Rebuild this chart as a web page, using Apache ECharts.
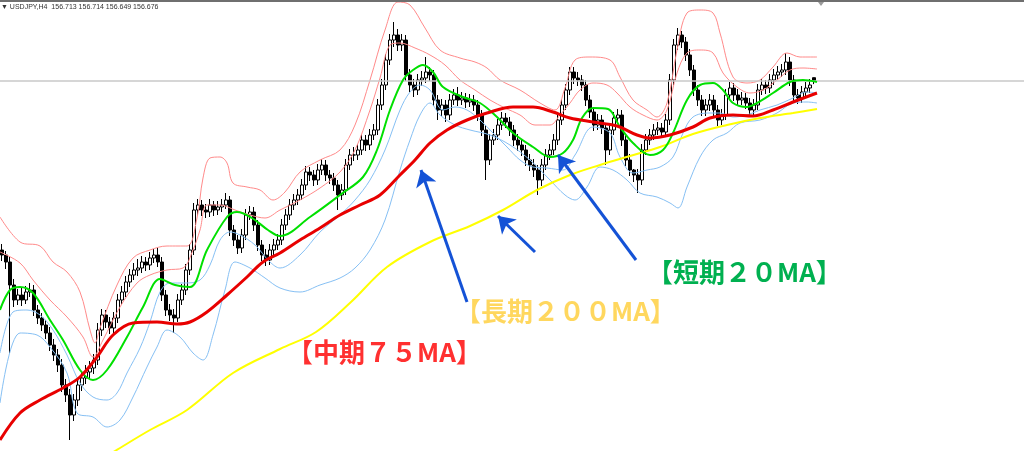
<!DOCTYPE html>
<html><head><meta charset="utf-8">
<script src="https://cdn.jsdelivr.net/npm/echarts@6/dist/echarts.min.js"></script>
<style>html,body{margin:0;padding:0;background:#fff}#c{width:1024px;height:451px}</style>
</head><body><div id="c"></div>
<script>
const title = '▼ USDJPY,H4  156.713 156.714 156.649 156.676';
const lastPrice = 156.676;
const opens = [154.99,154.94,154.87,154.64,154.49,154.54,154.49,154.57,154.59,154.39,
154.31,154.24,154.16,154.04,153.94,153.84,153.64,153.54,153.34,153.49,
153.64,153.71,153.77,153.81,153.89,154.19,154.34,154.27,154.21,154.31,
154.49,154.57,154.67,154.74,154.79,154.81,154.87,154.84,154.91,154.94,
154.87,154.54,154.39,154.34,154.31,154.49,154.59,154.79,154.99,155.39,
155.44,155.39,155.37,155.44,155.39,155.42,155.44,155.49,155.19,155.09,
155.01,155.14,155.34,155.37,155.24,155.04,154.94,154.89,154.99,155.04,
155.09,155.24,155.34,155.44,155.49,155.54,155.64,155.77,155.74,155.69,
155.79,155.84,155.74,155.71,155.64,155.54,155.59,155.84,155.94,155.94,
155.99,156.09,156.04,156.14,156.19,156.44,156.64,156.89,157.09,157.14,
157.04,157.09,156.74,156.64,156.59,156.69,156.71,156.77,156.74,156.49,
156.39,156.44,156.34,156.49,156.54,156.49,156.51,156.47,156.49,156.44,
156.34,156.19,155.89,156.09,156.14,156.24,156.31,156.27,156.19,156.09,
156.04,155.99,155.89,155.84,155.79,155.69,155.84,155.94,155.99,156.09,
156.29,156.44,156.59,156.77,156.71,156.69,156.64,156.49,156.37,156.24,
156.29,156.21,155.99,156.19,156.31,156.34,156.09,155.89,155.79,155.74,
155.69,155.99,156.09,156.14,156.19,156.21,156.17,156.29,156.69,157.04,
157.14,157.07,156.94,156.79,156.59,156.49,156.39,156.44,156.49,156.39,
156.29,156.34,156.54,156.61,156.54,156.49,156.51,156.46,156.39,156.44,
156.59,156.64,156.61,156.69,156.74,156.77,156.79,156.87,156.69,156.54,
156.51,156.57,156.61,156.713];
const closes = [154.94,154.87,154.64,154.49,154.54,154.49,154.57,154.59,154.39,154.31,
154.24,154.16,154.04,153.94,153.84,153.64,153.54,153.34,153.49,153.64,
153.71,153.77,153.81,153.89,154.19,154.34,154.27,154.21,154.31,154.49,
154.57,154.67,154.74,154.79,154.81,154.87,154.84,154.91,154.94,154.87,
154.54,154.39,154.34,154.31,154.49,154.59,154.79,154.99,155.39,155.44,
155.39,155.37,155.44,155.39,155.42,155.44,155.49,155.19,155.09,155.01,
155.14,155.34,155.37,155.24,155.04,154.94,154.89,154.99,155.04,155.09,
155.24,155.34,155.44,155.49,155.54,155.64,155.77,155.74,155.69,155.79,
155.84,155.74,155.71,155.64,155.54,155.59,155.84,155.94,155.94,155.99,
156.09,156.04,156.14,156.19,156.44,156.64,156.89,157.09,157.14,157.04,
157.09,156.74,156.64,156.59,156.69,156.71,156.77,156.74,156.49,156.39,
156.44,156.34,156.49,156.54,156.49,156.51,156.47,156.49,156.44,156.34,
156.19,155.89,156.09,156.14,156.24,156.31,156.27,156.19,156.09,156.04,
155.99,155.89,155.84,155.79,155.69,155.84,155.94,155.99,156.09,156.29,
156.44,156.59,156.77,156.71,156.69,156.64,156.49,156.37,156.24,156.29,
156.21,155.99,156.19,156.31,156.34,156.09,155.89,155.79,155.74,155.69,
155.99,156.09,156.14,156.19,156.21,156.17,156.29,156.69,157.04,157.14,
157.07,156.94,156.79,156.59,156.49,156.39,156.44,156.49,156.39,156.29,
156.34,156.54,156.61,156.54,156.49,156.51,156.46,156.39,156.44,156.59,
156.64,156.61,156.69,156.74,156.77,156.79,156.87,156.69,156.54,156.51,
156.57,156.61,156.64,156.676];
const highs = [155.05,154.98,154.92,154.70,154.60,154.61,154.63,154.66,154.64,154.44,
154.36,154.29,154.22,154.10,154.00,153.90,153.70,153.60,153.55,153.70,
153.78,153.84,153.88,153.95,154.26,154.40,154.39,154.32,154.37,154.55,
154.63,154.73,154.80,154.86,154.90,154.93,154.92,154.97,155.00,155.01,
154.92,154.59,154.45,154.40,154.55,154.65,154.85,155.05,155.46,155.50,
155.49,155.45,155.50,155.48,155.48,155.50,155.56,155.53,155.24,155.14,
155.20,155.40,155.43,155.42,155.29,155.09,155.00,155.05,155.10,155.15,
155.30,155.40,155.50,155.55,155.60,155.70,155.83,155.82,155.79,155.85,
155.90,155.89,155.79,155.76,155.69,155.65,155.90,156.00,156.02,156.05,
156.15,156.14,156.20,156.25,156.50,156.70,156.95,157.15,157.27,157.20,
157.15,157.14,156.80,156.70,156.75,156.78,156.92,156.82,156.79,156.54,
156.50,156.49,156.55,156.60,156.62,156.57,156.56,156.55,156.54,156.49,
156.39,156.24,156.15,156.20,156.30,156.37,156.36,156.32,156.24,156.15,
156.10,156.04,155.95,155.90,155.84,155.90,156.00,156.05,156.15,156.35,
156.50,156.65,156.82,156.82,156.77,156.74,156.69,156.54,156.42,156.35,
156.34,156.26,156.25,156.37,156.40,156.39,156.14,155.95,155.80,155.80,
156.05,156.15,156.20,156.25,156.27,156.26,156.35,156.75,157.10,157.21,
157.18,157.12,157.00,156.84,156.64,156.54,156.50,156.55,156.54,156.44,
156.40,156.60,156.67,156.66,156.60,156.57,156.56,156.51,156.50,156.65,
156.70,156.69,156.75,156.80,156.83,156.85,156.96,156.92,156.74,156.60,
156.63,156.67,156.70,156.714];
const lows = [154.88,154.80,153.96,154.42,154.44,154.43,154.45,154.52,154.33,154.25,
154.18,154.10,153.98,153.88,153.77,153.57,153.47,153.09,153.28,153.43,
153.58,153.65,153.70,153.75,153.84,154.13,154.21,154.15,154.16,154.26,
154.44,154.52,154.62,154.69,154.73,154.76,154.78,154.79,154.86,154.82,
154.48,154.33,154.28,154.16,154.27,154.44,154.54,154.74,154.94,155.33,
155.33,155.31,155.32,155.33,155.34,155.37,155.40,155.13,155.03,154.95,
154.96,155.09,155.29,155.18,154.98,154.88,154.83,154.84,154.94,154.99,
155.04,155.19,155.29,155.39,155.44,155.49,155.59,155.68,155.63,155.64,
155.74,155.68,155.65,155.58,155.39,155.49,155.54,155.79,155.88,155.89,
155.94,155.98,155.99,156.09,156.14,156.39,156.59,156.84,157.02,156.98,
156.98,156.68,156.57,156.52,156.54,156.63,156.66,156.68,156.43,156.29,
156.33,156.27,156.29,156.44,156.43,156.44,156.41,156.42,156.38,156.28,
156.13,155.69,155.84,156.04,156.09,156.19,156.21,156.13,156.03,155.98,
155.93,155.83,155.78,155.72,155.54,155.63,155.79,155.89,155.94,156.04,
156.24,156.39,156.54,156.65,156.63,156.58,156.43,156.31,156.18,156.19,
156.15,155.84,155.94,156.14,156.26,156.03,155.83,155.73,155.67,155.56,
155.64,155.94,156.04,156.09,156.14,156.11,156.12,156.24,156.64,156.99,
157.01,156.88,156.73,156.53,156.43,156.33,156.33,156.38,156.33,156.23,
156.24,156.29,156.49,156.48,156.43,156.44,156.40,156.33,156.33,156.39,
156.54,156.55,156.56,156.64,156.69,156.72,156.74,156.63,156.48,156.45,
156.46,156.52,156.56,156.649];

// indicator lines: [bar position, price]
const ma20 = [[0,154.39],[2.5,154.59],[5,154.62],[8.25,154.56],[12.5,154.29],[15.75,154.09],[20,153.79],[23.25,153.69],[26.75,153.79],[31.75,154.12],[35.75,154.42],[40,154.70],[43.75,154.64],[47.5,154.62],[51.75,154.99],[56.75,155.32],[59.25,155.37],[63,155.31],[67,155.19],[70,155.13],[77.5,155.32],[85,155.54],[90.75,155.72],[94.25,155.99],[97.5,156.39],[100.75,156.69],[103.25,156.79],[105.75,156.84],[108.25,156.77],[110.75,156.62],[115.75,156.52],[120,156.46],[124.25,156.32],[128.25,156.16],[133.25,156.02],[137.5,155.92],[140.75,155.96],[143.25,156.09],[145.5,156.31],[148.25,156.41],[152,156.40],[155,156.22],[158.25,156.06],[162.5,155.94],[165.75,155.99],[168.25,156.16],[171.75,156.49],[175,156.64],[178.25,156.66],[180.75,156.59],[183.25,156.46],[186.75,156.42],[189.25,156.46],[193.25,156.56],[197.5,156.67],[200.75,156.69],[204.25,156.67]];
const ma75 = [[0,153.09],[5,153.36],[10,153.49],[15.75,153.61],[20,153.72],[24.25,153.92],[28.25,154.14],[33.25,154.26],[39.25,154.27],[44.25,154.25],[47.5,154.27],[51.75,154.37],[56.75,154.54],[61.75,154.72],[65.75,154.87],[70,154.96],[75,155.09],[80,155.21],[85,155.34],[90,155.44],[95,155.54],[100,155.74],[103.75,155.89],[107.5,156.06],[111.75,156.19],[116.75,156.29],[121.75,156.36],[128.25,156.42],[133.25,156.42],[138.25,156.37],[142.5,156.31],[148.25,156.27],[154.25,156.23],[159.25,156.14],[162.5,156.11],[167.5,156.14],[173.25,156.22],[177.5,156.31],[183.25,156.34],[188.25,156.33],[193.25,156.39],[198.25,156.47],[204.25,156.56]];
const ma200 = [[25,152.89],[28.75,152.98],[37.5,153.19],[46.75,153.39],[58.25,153.76],[70,154.00],[79,154.17],[87.75,154.47],[96.75,154.82],[107.5,155.07],[117.5,155.23],[125.75,155.39],[134.25,155.59],[142.5,155.74],[150,155.84],[157.5,155.93],[165,156.02],[173.25,156.15],[181.75,156.24],[190,156.31],[198.25,156.36],[204.25,156.40]];
const bbUpperOuter = [[0,155.32],[5,155.07],[10,155.03],[13.25,154.87],[16.75,154.77],[20,154.57],[22.5,154.19],[23.75,154.06],[25,154.21],[29.25,154.64],[33.25,154.91],[37.5,154.99],[41.75,155.03],[46.75,155.03],[49.25,155.31],[50.75,155.71],[52.5,155.91],[55,155.92],[56.75,155.86],[58.25,155.66],[61.75,155.62],[65,155.59],[68.25,155.49],[71.25,155.57],[75,155.77],[80,155.89],[85,155.99],[88.75,156.24],[92.5,156.69],[96.25,157.19],[99.5,157.47],[102.5,157.44],[106.25,157.21],[110,156.99],[115,156.91],[118.75,156.87],[121.75,156.81],[125,156.69],[130,156.59],[135,156.46],[138.75,156.39],[141.25,156.61],[143.75,156.89],[147.5,156.92],[152.5,156.89],[155,156.72],[158.25,156.49],[161.75,156.39],[164.25,156.32],[166.75,156.46],[169.25,156.99],[171.75,157.36],[175,157.39],[178.25,157.36],[180,157.16],[183.25,156.72],[186.75,156.66],[190,156.69],[193.25,156.82],[196.75,156.96],[200,156.92],[204.25,156.92]];
const bbUpperInner = [[0,154.97],[5,154.86],[8.25,154.69],[12.5,154.49],[16.75,154.32],[20.75,154.12],[23.25,153.92],[25.75,154.09],[30,154.42],[34.25,154.66],[37.5,154.74],[41.75,154.79],[45.75,154.81],[48.25,154.99],[50,155.19],[51.75,155.44],[55,155.44],[58.75,155.39],[62.5,155.34],[66.25,155.31],[70,155.39],[75,155.49],[80,155.61],[85,155.77],[88.75,155.99],[92.5,156.39],[95,156.71],[97.5,157.04],[100,157.06],[103.75,157.01],[107.5,156.94],[111.25,156.84],[115,156.69],[118.75,156.59],[122.5,156.49],[126.25,156.41],[130,156.34],[133.75,156.24],[137.5,156.24],[140,156.34],[142.5,156.46],[145,156.59],[148.25,156.66],[151.75,156.64],[154.25,156.56],[157.5,156.42],[160.75,156.34],[164.25,156.29],[166.75,156.39],[169.25,156.76],[171.75,156.96],[175,156.99],[178.25,156.96],[180.75,156.76],[184.25,156.62],[187.5,156.56],[190.75,156.59],[194.25,156.69],[197.5,156.79],[200.75,156.81],[204.25,156.80]];
const bbLowerInner = [[0,153.96],[3.25,154.37],[6.75,154.39],[10,154.34],[13.25,154.19],[16.75,153.94],[20,153.66],[23.25,153.52],[26.75,153.49],[29.25,153.56],[31.75,153.76],[35,154.01],[37.5,154.27],[40,154.57],[42.5,154.66],[46.25,154.66],[50,154.69],[52.5,154.84],[55,155.09],[57.5,155.17],[60,155.14],[63.75,155.04],[67.5,154.87],[70,154.81],[75,154.94],[80,155.17],[85,155.34],[88.75,155.49],[92.5,155.69],[96.25,155.99],[100,156.39],[102.5,156.57],[105,156.64],[107.5,156.59],[110.75,156.39],[113.75,156.42],[116.75,156.39],[120,156.29],[123.25,156.16],[126.75,156.02],[130,155.89],[133.25,155.82],[136.75,155.81],[140.75,155.79],[143.75,155.94],[148.25,156.22],[152.5,156.16],[155,155.92],[158.25,155.76],[161.75,155.79],[165,155.82],[168.25,155.92],[170.75,156.16],[173.25,156.32],[177.5,156.36],[180,156.36],[183.25,156.32],[186.75,156.34],[190,156.39],[194.25,156.44],[198.25,156.51],[201.75,156.57],[204.25,156.56]];
const bbLowerOuter = [[0,153.46],[5,154.16],[9.25,154.14],[12.5,154.02],[16.75,153.76],[19.25,153.36],[23.25,153.32],[26.75,153.22],[30,153.29],[33.25,153.52],[36.75,153.82],[39.25,154.02],[41.75,154.19],[45,154.12],[48.25,153.96],[50.75,153.89],[53.25,154.14],[56.25,154.59],[58.75,154.87],[62.5,154.81],[66.25,154.71],[70,154.61],[75,154.57],[80,154.64],[85,154.71],[88.75,154.81],[92.5,154.99],[96.25,155.29],[100,155.79],[102.5,156.09],[105,156.34],[107.5,156.46],[110,156.34],[113.75,156.24],[117.5,156.19],[122.5,156.14],[127.5,156.04],[132.5,155.89],[137.5,155.69],[141.25,155.54],[143.75,155.49],[146.75,155.62],[150,155.82],[153.25,155.79],[156.75,155.69],[160,155.56],[164.25,155.52],[167.5,155.46],[169.5,155.41],[171.75,155.62],[175,155.92],[178.25,156.09],[181.75,156.16],[185,156.26],[190,156.29],[194.25,156.36],[198.25,156.46],[201.75,156.47],[204.25,156.46]];
// annotation arrows: [tail, head] in [bar position, price]
const arrows = [
  [[116.75,154.47],[105.25,155.79]],
  [[133.75,154.97],[124.5,155.33]],
  [[159,154.89],[139.5,155.94]]
];
const labels = [
  {text:'【短期２０MA】', color:'#00b050', x:647, y:259},
  {text:'【長期２００MA】', color:'#ffd75e', x:455, y:298},
  {text:'【中期７５MA】', color:'#ff3030', x:287, y:339}
];

const nBars = 256;
const cats = Array.from({length:nBars}, (_, i) => String(i));
const candleData = opens.map((o, i) => [o, closes[i], lows[i], highs[i]]);

function lineSeries(data, color, width, z) {
  return {type:'line', xAxisIndex:1, yAxisIndex:0, data:data, showSymbol:false, smooth:0.35,
    lineStyle:{color:color, width:width}, z:z, silent:true, animation:false};
}

const chart = echarts.init(document.getElementById('c'), null, {renderer:'canvas'});
chart.setOption({
  animation:false,
  backgroundColor:'#ffffff',
  grid:{left:0, right:0, top:0, bottom:0},
  xAxis:[
    {type:'category', data:cats, boundaryGap:true, show:false},
    {type:'value', min:0, max:nBars, show:false}
  ],
  yAxis:{type:'value', min:152.98, max:157.49, show:false, scale:true},
  series:[
    {type:'candlestick', data:candleData, barWidth:3, z:2,
      itemStyle:{color:'#ffffff', color0:'#000000', borderColor:'#000000', borderColor0:'#000000', borderWidth:1},
      markLine:{silent:true, symbol:['none','none'], label:{show:false},
        lineStyle:{color:'#c8c8c8', width:1.5, type:'solid'},
        data:[{yAxis:lastPrice}]}
    },
    lineSeries(bbUpperOuter, '#ff8a8a', 1, 3),
    lineSeries(bbUpperInner, '#ff8a8a', 1, 3),
    lineSeries(bbLowerInner, '#86c0f4', 1, 3),
    lineSeries(bbLowerOuter, '#86c0f4', 1, 3),
    lineSeries(ma200, '#ffff00', 2, 4),
    lineSeries(ma20, '#00e000', 2, 5),
    lineSeries(ma75, '#e80000', 3, 6),
    {type:'lines', coordinateSystem:'cartesian2d', xAxisIndex:1, yAxisIndex:0, z:8,
      data:arrows.map(a => ({coords:a})),
      symbol:['none','arrow'], symbolSize:[0,16],
      lineStyle:{color:'#1452d6', width:3, opacity:1}}
  ],
  graphic:[
    {type:'rect', shape:{x:0, y:0, width:1024, height:2}, style:{fill:'#6f6f6f'}, z:100},
    {type:'text', left:1, top:4, style:{text:title, fill:'#333', font:'7px "Liberation Sans"'}, z:100},
    {type:'polygon', shape:{points:[[818,2],[824,2],[821,6]]}, style:{fill:'#9a9a9a'}, z:100}
  ].concat(labels.map(l => ({type:'text', left:l.x, top:l.y, z:100,
    style:{text:l.text, fill:l.color, font:'bold 26px "Noto Sans CJK JP"'}})))
});
</script></body></html>
